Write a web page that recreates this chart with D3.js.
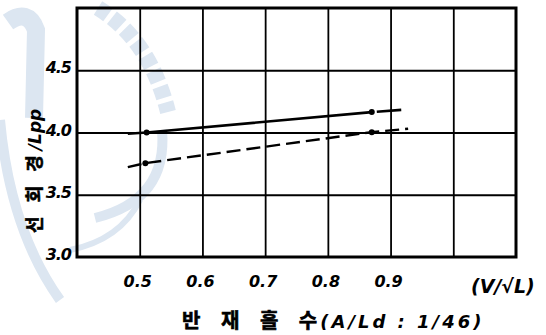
<!DOCTYPE html>
<html>
  <head>
    <meta charset="utf-8">
    <title>선회경/Lpp</title>
    <script type="text/javascript" src="https://d3js.org/d3.v7.min.js"></script>
    <style>
      body { margin: 0; background: #fff; }
      svg { display: block; }
      .hand { font-family: "DejaVu Sans", "Liberation Sans", sans-serif; font-weight: bold; font-style: italic; }
      .kr { font-family: "Noto Sans CJK KR", sans-serif; font-weight: bold; stroke: #000; stroke-width: 0.6; }
    </style>
  </head>
  <body>
    <svg width="546" height="335"></svg>
    <script type="text/javascript">
      // tick values / labels
      var xGrid = [0.5, 0.6, 0.7, 0.8, 0.9, 1.0];
      var xLabels = ["0.5", "0.6", "0.7", "0.8", "0.9"];
      var yTicks = [3.0, 3.5, 4.0, 4.5];
      var yLabels = ["3.0", "3.5", "4.0", "4.5"];

      // solid curve
      var solidX = [0.481, 0.511, 0.870];
      var solidY = [3.99, 4.00, 4.164];
      var solidExtX = [0.878, 0.917];
      var solidExtY = [4.167, 4.182];
      var solidPtX = [0.511, 0.870];
      var solidPtY = [4.00, 4.164];

      // dashed curve
      var dashX = [0.481, 0.509, 0.870, 0.928];
      var dashY = [3.722, 3.754, 4.003, 4.030];
      var dashPtX = [0.509, 0.870];
      var dashPtY = [3.754, 4.003];

      var svg = d3.select("svg");

      // faint seal watermark behind everything
      var wm = svg.append("g").attr("fill", "none").attr("stroke", "#dce6f1");
      wm.append("path").attr("d", "M8,22 Q28,8 36,30 L34,118").attr("stroke-width", 18);
      wm.append("path").attr("d", "M0,120 Q10,230 60,300").attr("stroke-width", 10);
      wm.append("path").attr("d", "M95,218 Q168,200 162,130").attr("stroke-width", 10);
      wm.append("path").attr("d", "M70,250 Q120,240 140,200").attr("stroke-width", 6);
      wm.append("path").attr("d", "M98,8 Q150,40 168,112").attr("stroke-width", 16).attr("stroke-dasharray", "12,5");

      var x = d3.scaleLinear().domain([0.4, 1.1]).range([77, 516]);
      var y = d3.scaleLinear().domain([3.0, 5.0]).range([257, 8]);

      // grid
      svg.append("g")
        .attr("transform", "translate(0," + y(3.0) + ")")
        .call(d3.axisBottom(x).tickValues(xGrid).tickSize(-(y(3.0) - y(5.0))).tickFormat(""))
        .call(function (g) { g.select(".domain").remove(); })
        .selectAll("line").attr("stroke", "#000").attr("stroke-width", 1.8);
      svg.append("g")
        .attr("transform", "translate(" + x(0.4) + ",0)")
        .call(d3.axisLeft(y).tickValues(yTicks.slice(1)).tickSize(-(x(1.1) - x(0.4))).tickFormat(""))
        .call(function (g) { g.select(".domain").remove(); })
        .selectAll("line").attr("stroke", "#000").attr("stroke-width", 1.8);

      // frame
      svg.append("rect")
        .attr("x", x(0.4)).attr("y", y(5.0))
        .attr("width", x(1.1) - x(0.4)).attr("height", y(3.0) - y(5.0))
        .attr("fill", "none").attr("stroke", "#000").attr("stroke-width", 3);

      // tick labels
      svg.append("g").selectAll("text").data(xLabels).enter().append("text")
        .attr("class", "hand").attr("font-size", 16).attr("text-anchor", "middle")
        .attr("x", function (d) { return x(+d) - 2; })
        .attr("y", 287)
        .text(function (d) { return d; });
      svg.append("g").selectAll("text").data(yLabels).enter().append("text")
        .attr("class", "hand").attr("font-size", 16).attr("text-anchor", "end")
        .attr("letter-spacing", -1)
        .attr("x", x(0.4) - 6)
        .attr("y", function (d) { return y(+d) + 3; })
        .text(function (d) { return d; });

      svg.append("text").attr("class", "hand").attr("font-size", 19)
        .attr("x", 471).attr("y", 293).text("(V/√L)");

      // axis titles
      var xt = svg.append("text").attr("x", 182).attr("y", 328);
      xt.append("tspan").attr("class", "kr").attr("font-size", 20).attr("letter-spacing", 8).text("반 재 흘 수");
      xt.append("tspan").attr("class", "hand").attr("font-size", 18).attr("letter-spacing", 3).attr("dx", -5).text("(A/Ld : 1/46)");

      var yt = svg.append("text").attr("transform", "translate(41,233) rotate(-90)");
      yt.append("tspan").attr("class", "kr").attr("font-size", 18).attr("letter-spacing", 5).text("선 회 경");
      yt.append("tspan").attr("class", "hand").attr("font-size", 17).text("/Lpp");

      // curves
      var line = d3.line().x(function (d) { return x(d[0]); }).y(function (d) { return y(d[1]); });
      svg.append("path").datum(d3.zip(solidX, solidY)).attr("d", line)
        .attr("fill", "none").attr("stroke", "#000").attr("stroke-width", 2.6);
      svg.append("path").datum(d3.zip(solidExtX, solidExtY)).attr("d", line)
        .attr("fill", "none").attr("stroke", "#000").attr("stroke-width", 2.6);
      svg.append("path").datum(d3.zip(dashX, dashY)).attr("d", line)
        .attr("fill", "none").attr("stroke", "#000").attr("stroke-width", 2.4)
        .attr("stroke-dasharray", "14,6");

      svg.append("g").selectAll("circle")
        .data(d3.zip(solidPtX, solidPtY).concat(d3.zip(dashPtX, dashPtY)))
        .enter().append("circle")
        .attr("cx", function (d) { return x(d[0]); })
        .attr("cy", function (d) { return y(d[1]); })
        .attr("r", 3).attr("fill", "#000");
    </script>
  </body>
</html>
